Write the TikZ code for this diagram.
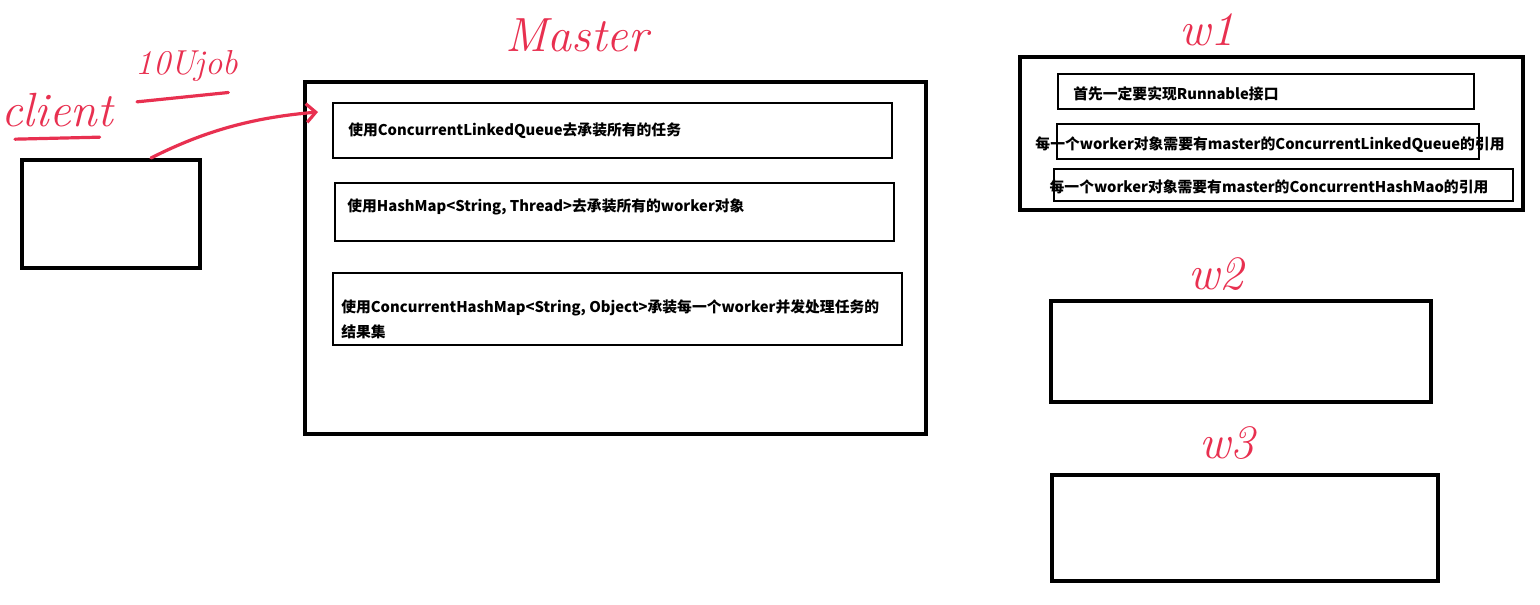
\documentclass[tikz,border=0pt]{standalone}
\usepackage{fontspec}
\newfontfamily\cjk{Noto Sans CJK SC}
\definecolor{penred}{RGB}{232,48,80}
\usetikzlibrary{positioning, arrows.meta}
\tikzset{
x=0.75pt, y=-0.75pt, % one unit is one pixel of the screenshot
bigbox/.style={draw=black, line width=3pt, inner sep=0pt}, % the outer frames
smallbox/.style={draw=black, line width=2.2pt, inner sep=0pt}, % the boxes inside them
txt/.style={font=\cjk\bfseries\fontsize{11.1}{19}\selectfont, inner sep=0pt, align=left},
hand/.style={text=penred, font=\itshape\fontsize{36}{36}\selectfont, inner sep=0pt}, % red hand notes
pen/.style={draw=penred, line width=2.4pt, line cap=round},
}

\begin{document}
\begin{tikzpicture}
  \useasboundingbox (0,0) rectangle (1540,604);
  % client
  \node[bigbox, minimum width=133.5pt, minimum height=81pt] (client) at (111,214) {};
  \node[hand] (clientlbl) at (57,110) {client};
  \node[hand, font=\itshape\fontsize{26}{26}\selectfont] (joblbl) at (187,66) {10Ujob};
  \draw[pen] ([xshift=-31.5pt, yshift=-9pt]clientlbl.south) -- ([xshift=32pt, yshift=-7.5pt]clientlbl.south);
  \draw[pen] ([xshift=-37.5pt, yshift=-15pt]joblbl.south) -- ([xshift=31pt, yshift=-8pt]joblbl.south);

  % master
  \node[bigbox, minimum width=465.75pt, minimum height=264pt] (master) at (615.5,258) {};
  \node[hand] (masterlbl) at (577,35) {Master};
  \node[smallbox, minimum width=419.25pt, minimum height=41.25pt] (queue) at (612.5,130.5) {};
  \node[smallbox, minimum width=419.25pt, minimum height=43.5pt] (map) at (614.5,212) {};
  \node[smallbox, minimum width=426.75pt, minimum height=54pt] (result) at (617.5,309) {};
  \node[txt, anchor=west] (queuetxt) at (348,131) {使用ConcurrentLinkedQueue去承装所有的任务};
  \node[txt, anchor=west] (maptxt) at (347,207) {使用HashMap<String, Thread>去承装所有的worker对象};
  \node[txt, anchor=north west] (resulttxt) at (341,299) {使用ConcurrentHashMap<String, Object>承装每一个worker并发处理任务的\\结果集};

  % client to master
  \coordinate (jobin) at (318,112);
  \draw[pen, -{Straight Barb[length=7pt, width=14pt]}] ([xshift=30pt]client.north)
    .. controls (210,128) and (260,117) .. (jobin);

  % workers
  \node[bigbox, minimum width=377.25pt, minimum height=114.75pt] (w1) at (1271.5,133.5) {};
  \node[hand] (w1lbl) at (1207,30) {w1};
  \node[smallbox, minimum width=312pt, minimum height=26.25pt] (run) at (1266,91.5) {};
  \node[smallbox, minimum width=316.5pt, minimum height=26.25pt] (qref) at (1268,141.5) {};
  \node[smallbox, minimum width=344.25pt, minimum height=24pt] (mref) at (1283.5,185) {};
  \node[txt, anchor=west] (runtxt) at (1073,94) {首先一定要实现Runnable接口};
  \node[txt] (qreftxt) at (1270,145) {每一个worker对象需要有master的ConcurrentLinkedQueue的引用};
  \node[txt] (mreftxt) at (1269,187) {每一个worker对象需要有master的ConcurrentHashMao的引用};

  \node[bigbox, minimum width=285pt, minimum height=75.75pt] (w2) at (1241,351.5) {};
  \node[hand] (w2lbl) at (1216,274) {w2};
  \node[bigbox, minimum width=289.5pt, minimum height=79.5pt] (w3) at (1245,528) {};
  \node[hand] (w3lbl) at (1227,443) {w3};
\end{tikzpicture}
\end{document}
